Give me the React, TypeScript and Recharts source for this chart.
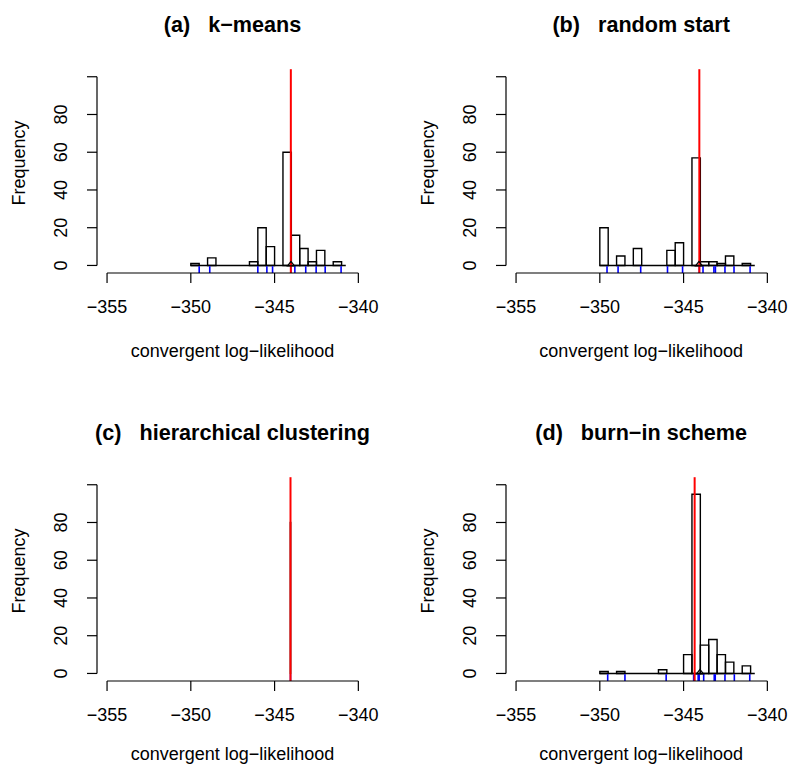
import {
  ComposedChart,
  ReferenceArea,
  ReferenceLine,
  Scatter,
  XAxis,
  YAxis,
} from "recharts";

// axes
const xTicks = [-355, -350, -345, -340];
const yTicks = [0, 20, 40, 60, 80, 100];
const xDomain = [-355.6, -339.4];
const yDomain = [-4, 104];

// (a) k-means : bin lower edges (width 0.5) and counts
const aLeft = [-350, -349, -346.5, -346, -345.5, -344.5, -344, -343.5, -343, -342.5, -341.5];
const aCount = [1, 4, 2, 20, 10, 60, 16, 9, 2, 8, 2];
const aRug = [-349.5, -348.87, -346.0, -345.46, -345.12, -344.03, -343.79, -343.14, -342.52, -341.98, -341.03];

// (b) random start
const bLeft = [-350, -349, -348, -346, -345.5, -344.5, -344, -343.5, -343, -342.5, -341.5];
const bCount = [20, 5, 9, 8, 12, 57, 2, 2, 1, 5, 1];
const bRug = [-349.57, -348.91, -347.56, -345.96, -345.06, -344.06, -343.84, -343.19, -343.1, -342.53, -341.99, -341.03];

// (c) hierarchical clustering : everything lands in one tiny bin
const cLeft = [-344.06];
const cCount = [80];
const cRug = [-344.05];

// (d) burn-in scheme
const dLeft = [-350, -349, -346.5, -345, -344.5, -344, -343.5, -343, -342.5, -341.5];
const dCount = [1, 1, 2, 10, 95, 15, 18, 10, 6, 4];
const dRug = [-349.53, -348.5, -346.04, -344.4, -344.13, -344.07, -343.8, -343.17, -343.11, -342.53, -341.97, -341.05];

// best log-likelihood (red line) and marker position
const redLine = [-344.03, -344.06, -344.05, -344.34];
const marker = [-344.02, -344.08, null, -344.02];
const baseEnd = -340.75;

const titles = [
  "(a)   k\u2212means",
  "(b)   random start",
  "(c)   hierarchical clustering",
  "(d)   burn\u2212in scheme",
];

const FONT = "'Liberation Sans', Arial, Helvetica, sans-serif";
const minus = (v: number) => (v < 0 ? "\u2212" + Math.abs(v) : String(v));

const XTick = (props: any) => {
  const { x, y, payload } = props;
  return (
    <text x={x} y={y + 30} textAnchor="middle" fontSize={18} fontFamily={FONT} fill="#000">
      {minus(payload.value)}
    </text>
  );
};

const YTick = (props: any) => {
  const { x, y, payload } = props;
  if (payload.value === 100) return <g />;
  const bx = x - 20;
  return (
    <text
      x={bx}
      y={y}
      transform={`rotate(-90, ${bx}, ${y})`}
      textAnchor="middle"
      fontSize={18}
      fontFamily={FONT}
      fill="#000"
    >
      {payload.value}
    </text>
  );
};

const Triangle = (props: any) => {
  const { cx, cy } = props;
  if (cx == null) return <g />;
  return (
    <polygon
      points={`${cx},${cy - 4} ${cx - 3.5},${cy + 0.5} ${cx + 3.5},${cy + 0.5}`}
      fill="none"
      stroke="#000"
      strokeWidth={1.2}
    />
  );
};

interface PanelProps {
  lefts: number[];
  counts: number[];
  binWidth: number;
  rug: number[];
  mle: number;
  mark: number | null;
  baseline: boolean;
}

const Panel = ({ lefts, counts, binWidth, rug, mle, mark, baseline }: PanelProps) => (
  <ComposedChart
    width={400}
    height={400}
    margin={{ top: 69.2, right: 31.6, bottom: 0, left: 0 }}
  >
    <XAxis
      type="number"
      dataKey="x"
      domain={xDomain}
      ticks={xTicks}
      interval={0}
      allowDataOverflow
      axisLine={false}
      tickLine={{ stroke: "#000", strokeWidth: 1.2 }}
      tickSize={10}
      tickMargin={0}
      tick={<XTick />}
      height={127}
    />
    <YAxis
      type="number"
      dataKey="y"
      domain={yDomain}
      ticks={yTicks}
      interval={0}
      allowDataOverflow
      axisLine={false}
      tickLine={{ stroke: "#000", strokeWidth: 1.2 }}
      tickSize={10}
      tickMargin={0}
      tick={<YTick />}
      width={97}
    />
    {lefts.map((lo, i) => (
      <ReferenceArea
        key={"b" + i}
        x1={lo}
        x2={lo + binWidth}
        y1={0}
        y2={counts[i]}
        stroke="#000"
        strokeWidth={1.4}
        fill="none"
        fillOpacity={0}
        ifOverflow="visible"
      />
    ))}
    {baseline && (
      <ReferenceLine
        segment={[{ x: -350, y: 0 }, { x: baseEnd, y: 0 }]}
        stroke="#000"
        strokeWidth={1.4}
        ifOverflow="visible"
      />
    )}
    {rug.map((r, i) => (
      <ReferenceLine
        key={"r" + i}
        segment={[{ x: r, y: -4 }, { x: r, y: -0.4 }]}
        stroke="#0000ff"
        strokeWidth={1.6}
        ifOverflow="visible"
      />
    ))}
    <ReferenceLine x={mle} stroke="#ff0000" strokeWidth={2} ifOverflow="visible" />
    {mark !== null && (
      <Scatter
        data={[{ x: mark, y: 0 }]}
        dataKey="y"
        shape={<Triangle />}
        isAnimationActive={false}
      />
    )}
    {/* R-style axis lines, only between first and last tick */}
    <ReferenceLine
      segment={[{ x: -355, y: -4 }, { x: -340, y: -4 }]}
      stroke="#000"
      strokeWidth={1.2}
      ifOverflow="visible"
    />
    <ReferenceLine
      segment={[{ x: -355.6, y: 0 }, { x: -355.6, y: 100 }]}
      stroke="#000"
      strokeWidth={1.2}
      ifOverflow="visible"
    />
  </ComposedChart>
);

const panels = [
  { lefts: aLeft, counts: aCount, binWidth: 0.5, rug: aRug, baseline: true },
  { lefts: bLeft, counts: bCount, binWidth: 0.5, rug: bRug, baseline: true },
  { lefts: cLeft, counts: cCount, binWidth: 0.02, rug: cRug, baseline: false },
  { lefts: dLeft, counts: dCount, binWidth: 0.5, rug: dRug, baseline: true },
];

const offsets = [
  [0, 0],
  [408.7, 0],
  [0, 408],
  [408.7, 408],
];

export default function App() {
  return (
    <div
      style={{
        position: "absolute",
        left: 0,
        top: 0,
        width: 788,
        height: 766,
        background: "#fff",
        overflow: "hidden",
      }}
    >
      {panels.map((p, i) => (
        <div
          key={i}
          style={{ position: "absolute", left: offsets[i][0], top: offsets[i][1] }}
        >
          <Panel {...p} mle={redLine[i]} mark={marker[i]} />
        </div>
      ))}
      <svg
        width={788}
        height={766}
        style={{ position: "absolute", left: 0, top: 0, pointerEvents: "none" }}
      >
        {offsets.map(([ox, oy], i) => (
          <g key={i} fontFamily={FONT} fill="#000">
            <text
              x={232.5 + ox}
              y={32 + oy}
              textAnchor="middle"
              fontSize={21.6}
              fontWeight="bold"
              style={{ whiteSpace: "pre" }}
            >
              {titles[i]}
            </text>
            <text
              x={232.5 + ox}
              y={(oy > 0 ? 352 : 356.5) + oy}
              textAnchor="middle"
              fontSize={18}
            >
              convergent log{"\u2212"}likelihood
            </text>
            <text
              x={25 + ox}
              y={163 + oy}
              transform={`rotate(-90, ${25 + ox}, ${163 + oy})`}
              textAnchor="middle"
              fontSize={18}
            >
              Frequency
            </text>
          </g>
        ))}
      </svg>
    </div>
  );
}
